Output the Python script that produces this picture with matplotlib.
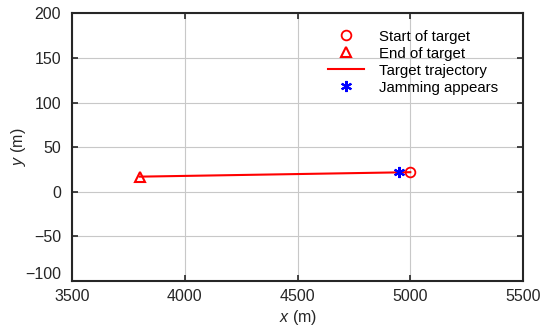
import matplotlib
matplotlib.use('Agg')
import matplotlib.pyplot as plt
import matplotlib.transforms as mtransforms

plt.rcParams['font.family'] = ['Liberation Sans', 'DejaVu Sans']
plt.rcParams['mathtext.fontset'] = 'custom'
plt.rcParams['mathtext.it'] = 'Liberation Sans:italic'
plt.rcParams['mathtext.rm'] = 'Liberation Sans'

# trajectory data (m)
traj_x = [3800, 5000]
traj_y = [17, 22]
start_xy = (5000, 22)
end_xy = (3800, 17)
jam_xy = (4950, 22)

xticks = [3500, 4000, 4500, 5000, 5500]
yticks = [-100, -50, 0, 50, 100, 150, 200]

fig = plt.figure(figsize=(5.42, 3.29), dpi=100)
ax = fig.add_axes([0.133, 0.146, 0.832, 0.813])

h_start, = ax.plot(start_xy[0], start_xy[1], 'o', mfc='none', mec='red', ms=7, mew=1.3, label='Start of target')
h_end, = ax.plot(end_xy[0], end_xy[1], '^', mfc='none', mec='red', ms=7, mew=1.5, label='End of target')
h_traj, = ax.plot(traj_x, traj_y, '-', color='red', lw=1.5, label='Target trajectory')
h_jam, = ax.plot(jam_xy[0], jam_xy[1], ls='none', marker=(6, 2, 0), mec='blue', mfc='blue', ms=8, mew=1.5, label='Jamming appears')
h_start.set_zorder(3); h_end.set_zorder(3); h_jam.set_zorder(3)

ax.set_xlim(3500, 5500)
ax.set_ylim(-100, 200)
ax.set_xticks(xticks)
ax.set_yticks(yticks)
ax.grid(True, color='#c8c8c8', lw=0.8)
ax.set_axisbelow(True)
ax.tick_params(direction='in', length=4, width=1.2, labelsize=11.5, top=True, right=True,
               color='#262626', labelcolor='#262626')
ax.tick_params(axis='x', pad=6)
ax.tick_params(axis='y', pad=8)
for s in ax.spines.values():
    s.set_linewidth(1.5)
    s.set_color('#262626')

# lift the bottom y label a little, as in the original
fig.canvas.draw()
lab = ax.get_yticklabels()[0]
lab.set_transform(lab.get_transform() + mtransforms.ScaledTranslation(0, 8 / 100, fig.dpi_scale_trans))

ax.set_xlabel('$x$ (m)', fontsize=11.5, color='#262626', labelpad=3)
ax.set_ylabel('$y$ (m)', fontsize=11.5, color='#262626', labelpad=-2)

ax.legend(handles=[h_start, h_end, h_traj, h_jam], loc='upper right', bbox_to_anchor=(0.975, 0.99),
          frameon=False, fontsize=10.8, handlelength=2.4, handletextpad=1.0, labelspacing=0.2)

fig.savefig('out.png', dpi=100)
